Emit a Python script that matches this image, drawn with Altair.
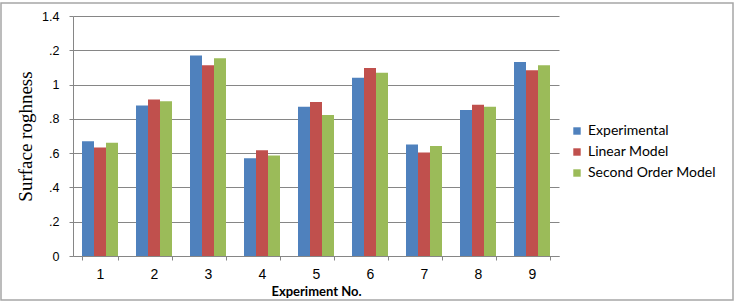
import altair as alt
import pandas as pd

# Surface roughness per experiment: measured vs. two regression models
experiments = ["1", "2", "3", "4", "5", "6", "7", "8", "9"]
experimental = [0.67, 0.878, 1.17, 0.57, 0.87, 1.04, 0.65, 0.851, 1.131]
linear_model = [0.633, 0.913, 1.112, 0.617, 0.898, 1.096, 0.604, 0.882, 1.083]
second_order = [0.66, 0.903, 1.153, 0.586, 0.822, 1.069, 0.641, 0.87, 1.112]

series_names = ["Experimental", "Linear Model", "Second Order Model"]
series_colors = ["#4F81BD", "#C0504D", "#9BBB59"]

y_tick_values = [0, 0.2, 0.4, 0.6, 0.8, 1.0, 1.2, 1.4]
y_tick_text = ["0", ".2", ".4", ".6", ".8", "1", ".2", "1.4"]

rows = []
for series, values in zip(series_names, [experimental, linear_model, second_order]):
    for exp, v in zip(experiments, values):
        rows.append({"Experiment": exp, "Series": series, "Value": v})
df = pd.DataFrame(rows)

label_expr = " : ".join(
    f"abs(datum.value - {v}) < 1e-6 ? '{t}'" for v, t in zip(y_tick_values, y_tick_text)
) + " : ''"

W, H = 486, 240
PAD_L, PAD_T = 73, 16

bars = alt.Chart(df).mark_bar(stroke=None).encode(
    x=alt.X(
        "Experiment:N",
        sort=experiments,
        scale=alt.Scale(paddingInner=1 / 3, paddingOuter=1 / 6),
        axis=alt.Axis(
            title="Experiment No.",
            labelAngle=0,
            labelFont="Liberation Sans",
            labelFontSize=14,
            labelColor="#000000",
            labelPadding=7,
            tickBand="extent",
            tickSize=4,
            tickColor="#868686",
            domainColor="#868686",
            titleFont="Lato",
            titleFontSize=13,
            titleFontWeight="bold",
            titleColor="#000000",
            titleY=35,
            titleBaseline="middle",
            grid=False,
        ),
    ),
    xOffset=alt.XOffset("Series:N", sort=series_names),
    y=alt.Y(
        "Value:Q",
        scale=alt.Scale(domain=[0, 1.4], nice=False),
        axis=alt.Axis(
            title="Surface roghness",
            values=y_tick_values,
            labelExpr=label_expr,
            labelFont="Liberation Sans",
            labelFontSize=12.5,
            labelColor="#000000",
            labelPadding=10,
            tickSize=4,
            tickColor="#868686",
            domainColor="#868686",
            gridColor="#868686",
            titleFont="Liberation Serif",
            titleFontSize=19,
            titleFontWeight="normal",
            titleColor="#000000",
            titleAngle=270,
            titleX=-48,
            titleY=H / 2,
            titleAlign="center",
            titleBaseline="middle",
        ),
    ),
    color=alt.Color(
        "Series:N",
        sort=series_names,
        scale=alt.Scale(domain=series_names, range=series_colors),
        legend=alt.Legend(
            title=None,
            orient="none",
            legendX=497,
            legendY=108,
            symbolType="square",
            symbolSize=55,
            symbolStrokeWidth=0,
            labelFont="Lato",
            labelFontSize=14,
            labelColor="#000000",
            rowPadding=7,
            labelOffset=4,
        ),
    ),
)

# Thin gray frame around the whole figure
frame = alt.Chart(pd.DataFrame({"k": [0]})).mark_rect(
    fill=None, stroke="#a6a6a6", strokeWidth=1.5
).encode(
    x=alt.value(-PAD_L + 1),
    x2=alt.value(733 - PAD_L),
    y=alt.value(3 - PAD_T),
    y2=alt.value(300 - PAD_T),
)

chart = alt.layer(bars, frame).properties(
    width=W,
    height=H,
    autosize=alt.AutoSizeParams(type="none"),
    padding={"left": PAD_L, "top": PAD_T, "right": 735 - PAD_L - W, "bottom": 302 - PAD_T - H},
    background="#ffffff",
).configure_view(stroke=None)

chart.save("out.html", embed_options={"renderer": "svg", "actions": False})
